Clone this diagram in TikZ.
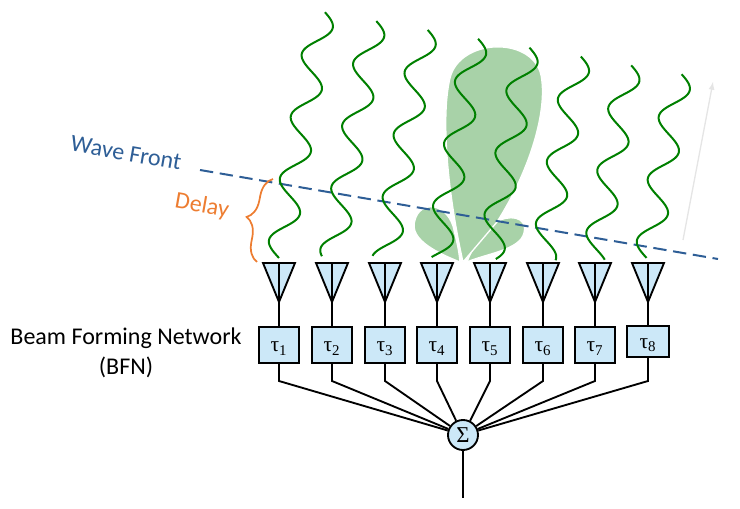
\documentclass[tikz,border=0pt]{standalone}
\usepackage{fontspec}
\setmainfont{Carlito}
\newfontfamily\greekfont{Liberation Serif}
\usetikzlibrary{decorations.pathreplacing}
\definecolor{antblue}{RGB}{204,232,248}
\definecolor{lobegreen}{RGB}{168,210,168}
\definecolor{wavegreen}{RGB}{0,128,0}
\definecolor{frontblue}{RGB}{46,94,150}
\definecolor{delayorange}{RGB}{237,125,49}
\def\wave(#1)(#2)(#3){\draw[wavy] plot[domain=0:#3, samples=150, smooth] ({#1+0.1736*\x-12.8*sin(5.714*(\x+#2))}, {258-0.9848*\x-2.26*sin(5.714*(\x+#2))});}
\def\antenna(#1)(#2){\draw[ant] (#1-16, 263) -- (#1+16, 263) -- (#1, 302) -- cycle; \draw[ant] (#1, 263) -- (#1, 302); \coordinate (#2) at (#1, 302);}
\tikzset{
  wavy/.style={line width=1.5pt, color=wavegreen},
  ant/.style={line width=1.4pt, fill=antblue, line join=miter},
  delaybox/.style={draw, line width=1.4pt, fill=antblue, minimum width=30.5pt, minimum height=27pt, inner sep=0pt, text height=11pt, text depth=1pt, font=\greekfont\fontsize{16}{18}\selectfont},
  lobe/.style={fill=lobegreen, draw=white, line width=1pt},
  wire/.style={line width=1.4pt}
}

\begin{document}
\begin{tikzpicture}[x=0.75pt, y=-0.75pt]
			%%%%% START %%%%%
			\useasboundingbox (0, 0) rectangle (740, 509);
			
			% radiation pattern
			\draw[lobe] (460, 262) .. controls (440, 254) and (408, 240) .. (415, 220) .. controls (420, 201) and (445, 202) .. (453, 226) .. controls (456, 238) and (459, 250) .. (460, 262);
			\draw[lobe] (467, 262) .. controls (485, 254) and (520, 250) .. (524, 233) .. controls (528, 216) and (508, 214) .. (495, 223) .. controls (483, 232) and (472, 248) .. (467, 262);
			\draw[lobe] (463, 262) .. controls (449, 200) and (440, 120) .. (450, 78) .. controls (460, 38) and (532, 36) .. (541, 75) .. controls (548, 110) and (530, 170) .. (497, 222) -- cycle;
			
			% wave front
			\coordinate (wf1) at (200, 170);
			\coordinate (wf2) at (718, 259);
			\draw[line width=1.5pt, color=frontblue, dash pattern=on 10pt off 5pt] (wf1) -- (wf2);
			\node[color=frontblue, rotate=-10, font=\fontsize{18}{20}\selectfont] (wftext) at (126, 153) {Wave Front};
			
			% incoming waves
			\wave(279)(0)(250)
			\wave(332)(9.05)(241)
			\wave(385)(18.1)(232)
			\wave(437)(27.15)(223)
			\wave(490)(36.2)(214)
			\wave(543)(45.25)(205)
			\wave(595)(54.3)(196)
			\wave(647)(63.35)(187)
			
			\coordinate (dir1) at (683, 240);
			\coordinate (dir2) at (713, 82);
			\draw[line width=1pt, color=black!10, -latex] (dir1) -- (dir2);
			
			% delay
			\coordinate (dbot) at (257, 262);
			\coordinate (dtop) at (273, 179);
			\draw[line width=1.3pt, color=delayorange, decorate, decoration={brace, amplitude=14pt}] (dbot) -- (dtop);
			\node[color=delayorange, rotate=-10, font=\fontsize{18}{20}\selectfont] (delaytext) at (202, 206) {Delay};
			
			% antennas
			\antenna(279)(a1)
			\antenna(332)(a2)
			\antenna(385)(a3)
			\antenna(437)(a4)
			\antenna(490)(a5)
			\antenna(543)(a6)
			\antenna(595)(a7)
			\antenna(648)(a8)
			
			% delay lines
			\node[delaybox] (t1) at (279, 345) {τ\textsubscript{1}};
			\node[delaybox] (t2) at (332, 345) {τ\textsubscript{2}};
			\node[delaybox] (t3) at (385, 345) {τ\textsubscript{3}};
			\node[delaybox] (t4) at (437, 345) {τ\textsubscript{4}};
			\node[delaybox] (t5) at (490, 345) {τ\textsubscript{5}};
			\node[delaybox] (t6) at (543, 345) {τ\textsubscript{6}};
			\node[delaybox] (t7) at (595, 345) {τ\textsubscript{7}};
			\node[delaybox, minimum width=32pt, minimum height=23.5pt] (t8) at (648, 341.5) {τ\textsubscript{8}};
			
			\draw[wire] (a1) -- (t1); \draw[wire] (a2) -- (t2);
			\draw[wire] (a3) -- (t3); \draw[wire] (a4) -- (t4);
			\draw[wire] (a5) -- (t5); \draw[wire] (a6) -- (t6);
			\draw[wire] (a7) -- (t7); \draw[wire] (a8) -- (t8);
			
			% summation
			\node[draw, circle, line width=1.4pt, fill=antblue, minimum size=22.5pt, inner sep=0pt, font=\greekfont\fontsize{17}{19}\selectfont] (sum) at (463, 435) {Σ};
			
			\coordinate (b1) at (279, 381);
			\coordinate (b2) at (332, 381);
			\coordinate (b3) at (385, 381);
			\coordinate (b4) at (437, 381);
			\coordinate (b5) at (490, 381);
			\coordinate (b6) at (543, 381);
			\coordinate (b7) at (595, 381);
			\coordinate (b8) at (648, 381);
			\draw[wire] (t1) -- (b1) -- (sum);
			\draw[wire] (t2) -- (b2) -- (sum);
			\draw[wire] (t3) -- (b3) -- (sum);
			\draw[wire] (t4) -- (b4) -- (sum);
			\draw[wire] (t5) -- (b5) -- (sum);
			\draw[wire] (t6) -- (b6) -- (sum);
			\draw[wire] (t7) -- (b7) -- (sum);
			\draw[wire] (t8) -- (b8) -- (sum);
			
			\coordinate (out) at (463, 498);
			\draw[wire] (sum) -- (out);
			
			\node[align=center, font=\fontsize{18}{22}\selectfont] (bfn) at (126, 353) {Beam Forming Network\\(BFN)};
			
			%%%%% END %%%%%
\end{tikzpicture}
\end{document}
